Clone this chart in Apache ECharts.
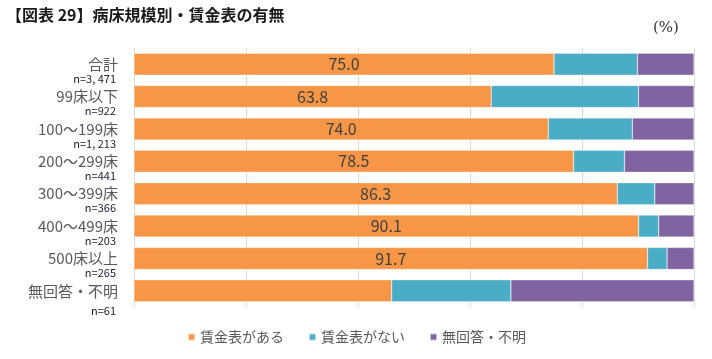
<!DOCTYPE html>
<html><head><meta charset="utf-8">
<script src="https://cdn.jsdelivr.net/npm/echarts@6/dist/echarts.min.js"></script>
<style>html,body{margin:0;padding:0;background:#fff}#c{width:712px;height:359px}</style>
</head><body><div id="c"></div>
<script>
const categories = ['合計','99床以下','100～199床','200～299床','300～399床','400～499床','500床以上','無回答・不明'];
const nLabels = ['n=3, 471','n=922','n=1, 213','n=441','n=366','n=203','n=265','n=61'];
const seriesNames = ['賃金表がある','賃金表がない','無回答・不明'];
const hasTable = [75.0, 63.8, 74.0, 78.5, 86.3, 90.1, 91.7, 46.0];
const noTable = [14.9, 26.3, 15.0, 9.1, 6.7, 3.6, 3.5, 21.3];
const unknown = [10.1, 9.9, 11.0, 12.4, 7.0, 6.3, 4.8, 32.7];
const showLabel = [true, true, true, true, true, true, true, false];
const colors = ['#F79646', '#4BACC6', '#8064A2'];
const xTicks = [0, 20, 40, 60, 80, 100];

const font = '"Noto Sans CJK JP", "Noto Sans", sans-serif';
const chart = echarts.init(document.getElementById('c'), null, {renderer: 'canvas'});
const values = [hasTable, noTable, unknown];
chart.setOption({
  animation: false,
  textStyle: {fontFamily: font},
  title: [{
    text: '【図表 29】病床規模別・賃金表の有無',
    left: 1, top: 2,
    textStyle: {fontSize: 16, fontWeight: 'bold', color: '#1a1a1a', fontFamily: font}
  }, {
    text: '(%)',
    left: 648, top: 16,
    textStyle: {fontSize: 15, fontWeight: 'normal', color: '#333', fontFamily: '"DejaVu Serif", serif'}
  }],
  legend: {
    data: seriesNames,
    left: 182, top: 325,
    icon: 'rect', itemWidth: 7, itemHeight: 7, itemGap: 24,
    textStyle: {fontSize: 14, color: '#595959', fontFamily: font}
  },
  grid: {left: 134, right: 18, top: 48, bottom: 52, containLabel: false},
  xAxis: {
    type: 'value', min: xTicks[0], max: xTicks[xTicks.length - 1], interval: 20,
    axisLabel: {show: false}, axisTick: {show: false}, axisLine: {show: false},
    splitLine: {show: true, lineStyle: {color: '#D9D9D9', width: 1}}
  },
  yAxis: {
    type: 'category', data: categories, inverse: true,
    axisTick: {show: false},
    axisLine: {show: false},
    axisLabel: {
      margin: 16, interval: 0, showMinLabel: true, showMaxLabel: true, hideOverlap: false,
      formatter: function (v, i) {
        if (i === categories.length - 1) return '{e2|}\n{a|' + v + '}\n{c|' + nLabels[i] + '}';
        return '{e|}\n{a|' + v + '}\n{b|' + nLabels[i] + '}';
      },
      rich: {
        e: {height: 13, lineHeight: 13, fontSize: 1},
        e2: {height: 24, lineHeight: 24, fontSize: 1},
        a: {fontSize: 15, lineHeight: 16, color: '#595959', fontFamily: font, align: 'right'},
        b: {fontSize: 11, lineHeight: 13, color: '#1A1A33', fontFamily: font, align: 'right', padding: [0, 2, 0, 0]},
        c: {fontSize: 11, lineHeight: 24, color: '#1A1A33', fontFamily: font, align: 'right', padding: [0, 2, 0, 0]}
      }
    }
  },
  series: seriesNames.map((name, k) => ({
    name: name, type: 'bar', stack: 'total', barWidth: 22,
    itemStyle: {color: colors[k], borderColor: 'rgba(255,255,255,0.6)', borderWidth: 0.5},
    label: k === 0 ? {
      show: true, position: 'inside', fontSize: 16, color: '#404040', fontFamily: font,
      formatter: p => showLabel[p.dataIndex] ? p.value.toFixed(1) : ''
    } : {show: false},
    data: values[k]
  }))
});
</script></body></html>
